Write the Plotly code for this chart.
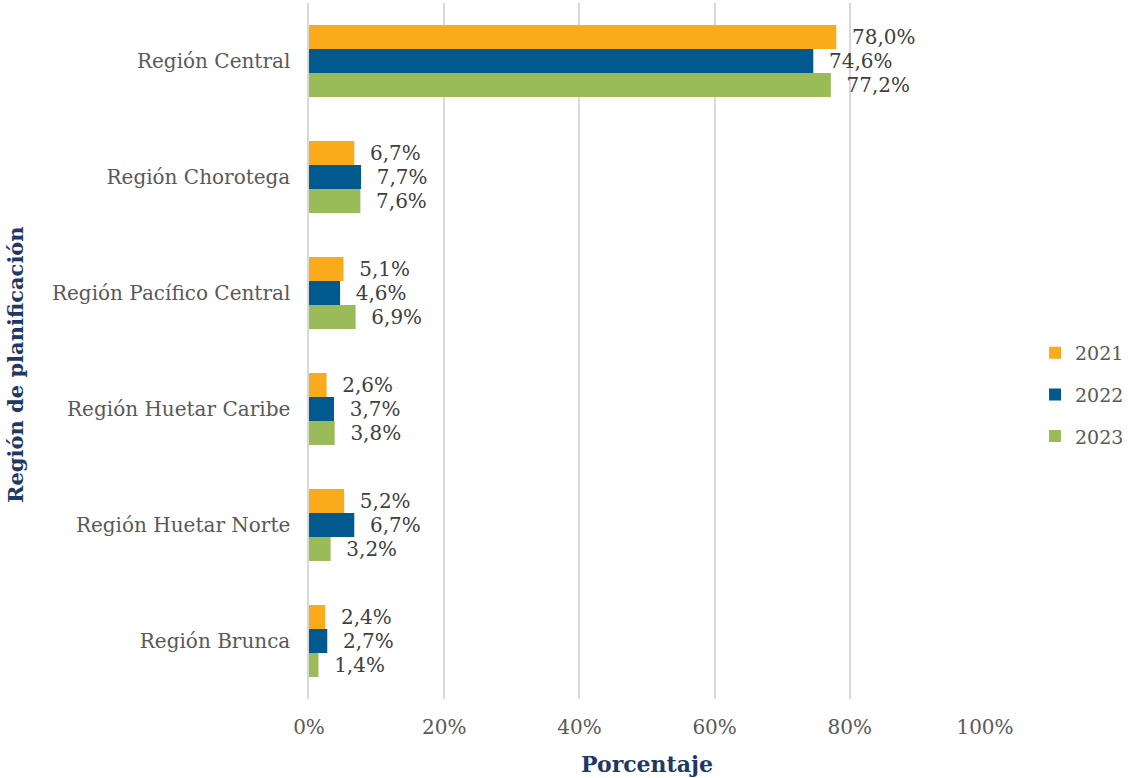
import plotly.graph_objects as go

regions = ["Región Central", "Región Chorotega", "Región Pacífico Central",
           "Región Huetar Caribe", "Región Huetar Norte", "Región Brunca"]
years = ["2021", "2022", "2023"]
v2021 = [78.0, 6.7, 5.1, 2.6, 5.2, 2.4]
v2022 = [74.6, 7.7, 4.6, 3.7, 6.7, 2.7]
v2023 = [77.2, 7.6, 6.9, 3.8, 3.2, 1.4]
colors = ["#F9AB1B", "#005A8E", "#9BBB59"]

FONT = "DejaVu Serif"

def fmt(v):
    return "  " + f"{v:.1f}%".replace(".", ",")

fig = go.Figure()
for name, vals, col in zip(years, [v2021, v2022, v2023], colors):
    fig.add_trace(go.Bar(
        y=regions, x=[v / 100 for v in vals], name=name, orientation="h",
        legendgroup=name,
        marker=dict(color=col, line=dict(width=0)),
        text=[fmt(v) for v in vals], textposition="outside",
        textfont=dict(family=FONT, size=20, color="#404040"),
        cliponaxis=False,
    ))

fig.update_layout(
    width=1128, height=778,
    margin=dict(l=309, r=143, t=3, b=79, autoexpand=False),
    paper_bgcolor="white", plot_bgcolor="white",
    barmode="group", bargap=0.38, bargroupgap=0,
    font=dict(family=FONT, size=20, color="#595959"),
    legend=dict(x=1.074, y=0.437, xanchor="left", yanchor="middle",
                font=dict(family=FONT, size=19, color="#595959"),
                tracegroupgap=14, itemwidth=30),
    xaxis=dict(range=[0, 1], tickformat=".0%", dtick=0.2,
               showgrid=True, gridcolor="#D9D9D9", gridwidth=2,
               zeroline=False, showline=False, ticks="",
               ticklabelstandoff=14,
               tickfont=dict(family=FONT, size=20, color="#595959"),
               title=dict(text="<b>Porcentaje</b>", standoff=18,
                          font=dict(family=FONT, size=22, color="#1F3864"))),
    yaxis=dict(autorange="reversed", showgrid=False, ticks="",
               showline=True, linecolor="#D9D9D9", linewidth=2,
               ticksuffix="  ",
               tickfont=dict(family=FONT, size=20, color="#595959")),
    annotations=[dict(text="<b>Región de planificación</b>", textangle=-90,
                      xref="paper", yref="paper",
                      x=(15 - 309) / 676, y=(699 - 365) / 696,
                      xanchor="center", yanchor="middle", showarrow=False,
                      font=dict(family=FONT, size=21, color="#1F3864"))],
)
fig.write_html("out.html", config={"displayModeBar": False},
               post_script="document.body.style.margin='0';")
